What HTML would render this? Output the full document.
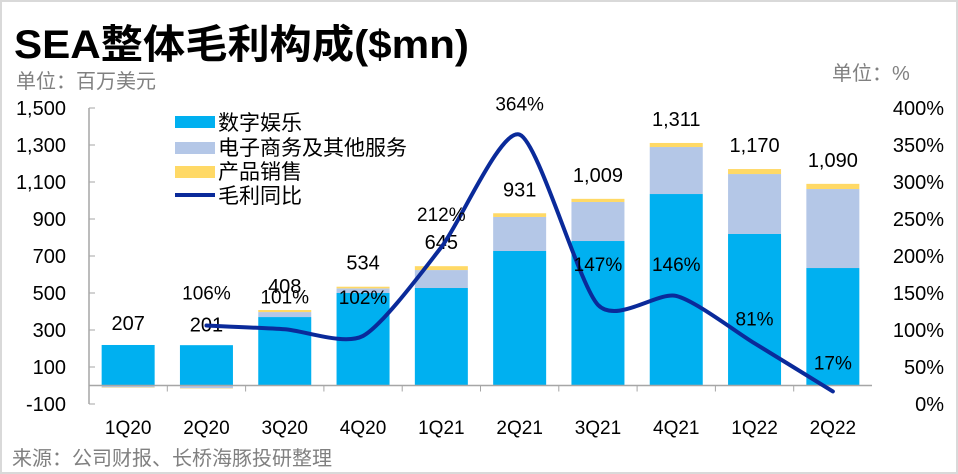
<!DOCTYPE html>
<html><head><meta charset="utf-8"><style>
body{margin:0;background:#fff;}
#wrap{position:relative;width:958px;height:474px;overflow:hidden;font-family:"Liberation Sans","Noto Sans CJK SC",sans-serif;}
</style></head><body>
<div id="wrap">
<svg id="chart" width="958" height="474" style="font-family:'Liberation Sans','Noto Sans CJK SC',sans-serif">
<rect x="1" y="1" width="956" height="472" fill="#fff" stroke="#d9d9d9" stroke-width="2"/>
<text x="14" y="58" font-size="40" font-weight="bold" fill="#000" textLength="455" lengthAdjust="spacingAndGlyphs">SEA整体毛利构成($mn)</text>
<text x="16" y="88" font-size="20" fill="#808080">单位：百万美元</text>
<text x="832" y="80" font-size="20" fill="#808080">单位：%</text>
<text x="12" y="465" font-size="20" fill="#808080">来源：公司财报、长桥海豚投研整理</text>
<g id="legend">
<rect x="175" y="116" width="40" height="12" fill="#00b0f0"/>
<text x="218" y="130" font-size="21">数字娱乐</text>
<rect x="175" y="142" width="40" height="12" fill="#b4c7e7"/>
<text x="218" y="155" font-size="21">电子商务及其他服务</text>
<rect x="175" y="166" width="40" height="12" fill="#ffd966"/>
<text x="218" y="179" font-size="21">产品销售</text>
<line x1="175" y1="195" x2="215" y2="195" stroke="#0a2a9a" stroke-width="4"/>
<text x="218" y="203" font-size="21">毛利同比</text>
</g>
</svg>
</div>
<script>
const categories=["1Q20","2Q20","3Q20","4Q20","1Q21","2Q21","3Q21","4Q21","1Q22","2Q22"];
const digitalEnt=[219,218,370,500,527,727,781,1035,819,635];
const ecommerce=[-10,-15,27,25,97,184,211,254,324,427];
const productSales=[-2,-2,11,9,21,20,17,22,27,28];
const totals=[207,201,408,534,645,931,1009,1311,1170,1090];
const yoyLabels=["","106%","101%","102%","212%","364%","147%","146%","81%","17%"];
const yoy=[null,106,101,92,212,364,134,146,82,17];
const leftTicks=[-100,100,300,500,700,900,1100,1300,1500];
const rightTicks=[0,50,100,150,200,250,300,350,400];

(function(){
const svg=document.getElementById('chart');
const NS='http://www.w3.org/2000/svg';
const pTop=108,pBot=404,pLeft=89,pRight=872;
const yL=v=>pBot-(v+100)/1600*(pBot-pTop);
const yR=v=>pBot-v/400*(pBot-pTop);
const step=(pRight-pLeft)/categories.length;
const xC=i=>pLeft+step*(i+0.5);
const bw=53;
function mk(tag,attrs){const e=document.createElementNS(NS,tag);for(const k in attrs)e.setAttribute(k,attrs[k]);svg.appendChild(e);return e;}

let e=mk('line',{x1:pLeft,y1:pTop,x2:pLeft,y2:pBot,stroke:'#a6a6a6','stroke-width':1.5});


leftTicks.forEach(t=>{
  let l=mk('line',{x1:pLeft,y1:yL(t),x2:pLeft+6,y2:yL(t),stroke:'#a6a6a6'});
  
  
  let tx=mk('text',{x:66,y:yL(t)+7,'font-size':20,'text-anchor':'end'});
  tx.textContent=t.toLocaleString('en-US');
  
  
});
rightTicks.forEach(t=>{
  let tx=mk('text',{x:944,y:yR(t)+7,'font-size':20,'text-anchor':'end'});
  tx.textContent=t+'%';
  
  
});
categories.forEach((c,i)=>{
  const segs=[[digitalEnt[i],'#00b0f0','bar-digital-ent'],[ecommerce[i],'#b4c7e7','bar-ecommerce'],[productSales[i],'#ffd966','bar-product']];
  let pos=0,neg=0;
  segs.forEach(([v,col,name])=>{
    let a,b;
    if(v>=0){a=pos;b=pos+v;pos=b;}else{a=neg;b=neg+v;neg=b;}
    const y1=yL(Math.max(a,b)),y2=yL(Math.min(a,b));
    let r=mk('rect',{x:xC(i)-bw/2,y:y1,width:bw,height:Math.max(0,y2-y1),fill:col});
    
    
  });
});
e=mk('line',{x1:pLeft,y1:yL(0),x2:pRight,y2:yL(0),stroke:'#a6a6a6','stroke-width':1.5});


categories.forEach((c,i)=>{
  if(i>0){let l=mk('line',{x1:pLeft+step*i,y1:yL(0),x2:pLeft+step*i,y2:yL(0)+6,stroke:'#a6a6a6'});
  
  }
  let tx=mk('text',{x:xC(i),y:434,'font-size':19,'text-anchor':'middle'});
  tx.textContent=c;
  
  
  let t2=mk('text',{x:xC(i),y:yL(totals[i])-17,'font-size':20,'text-anchor':'middle'});
  t2.textContent=totals[i].toLocaleString('en-US');
  
  
});
const pts=[];yoy.forEach((v,i)=>{if(v!==null)pts.push([xC(i),yR(v)]);});
let d='M'+pts[0][0]+','+pts[0][1];
for(let k=0;k<pts.length-1;k++){
  const p0=pts[k-1]||pts[k],p1=pts[k],p2=pts[k+1],p3=pts[k+2]||p2,s=0.12;
  d+=` C${p1[0]+(p2[0]-p0[0])*s},${p1[1]+(p2[1]-p0[1])*s} ${p2[0]-(p3[0]-p1[0])*s},${p2[1]-(p3[1]-p1[1])*s} ${p2[0]},${p2[1]}`;
}
e=mk('path',{d:d,fill:'none',stroke:'#0a2a9a','stroke-width':4,'stroke-linecap':'round'});


const labOff=[0,-26,-26,-32,-26,-24,-34,-25,-18,-22];
yoyLabels.forEach((s,i)=>{
  if(!s)return;
  let tx=mk('text',{x:xC(i),y:yR(yoy[i])+labOff[i],'font-size':19,'text-anchor':'middle'});
  tx.textContent=s;
  
  
});
})();
</script>
</body></html>
